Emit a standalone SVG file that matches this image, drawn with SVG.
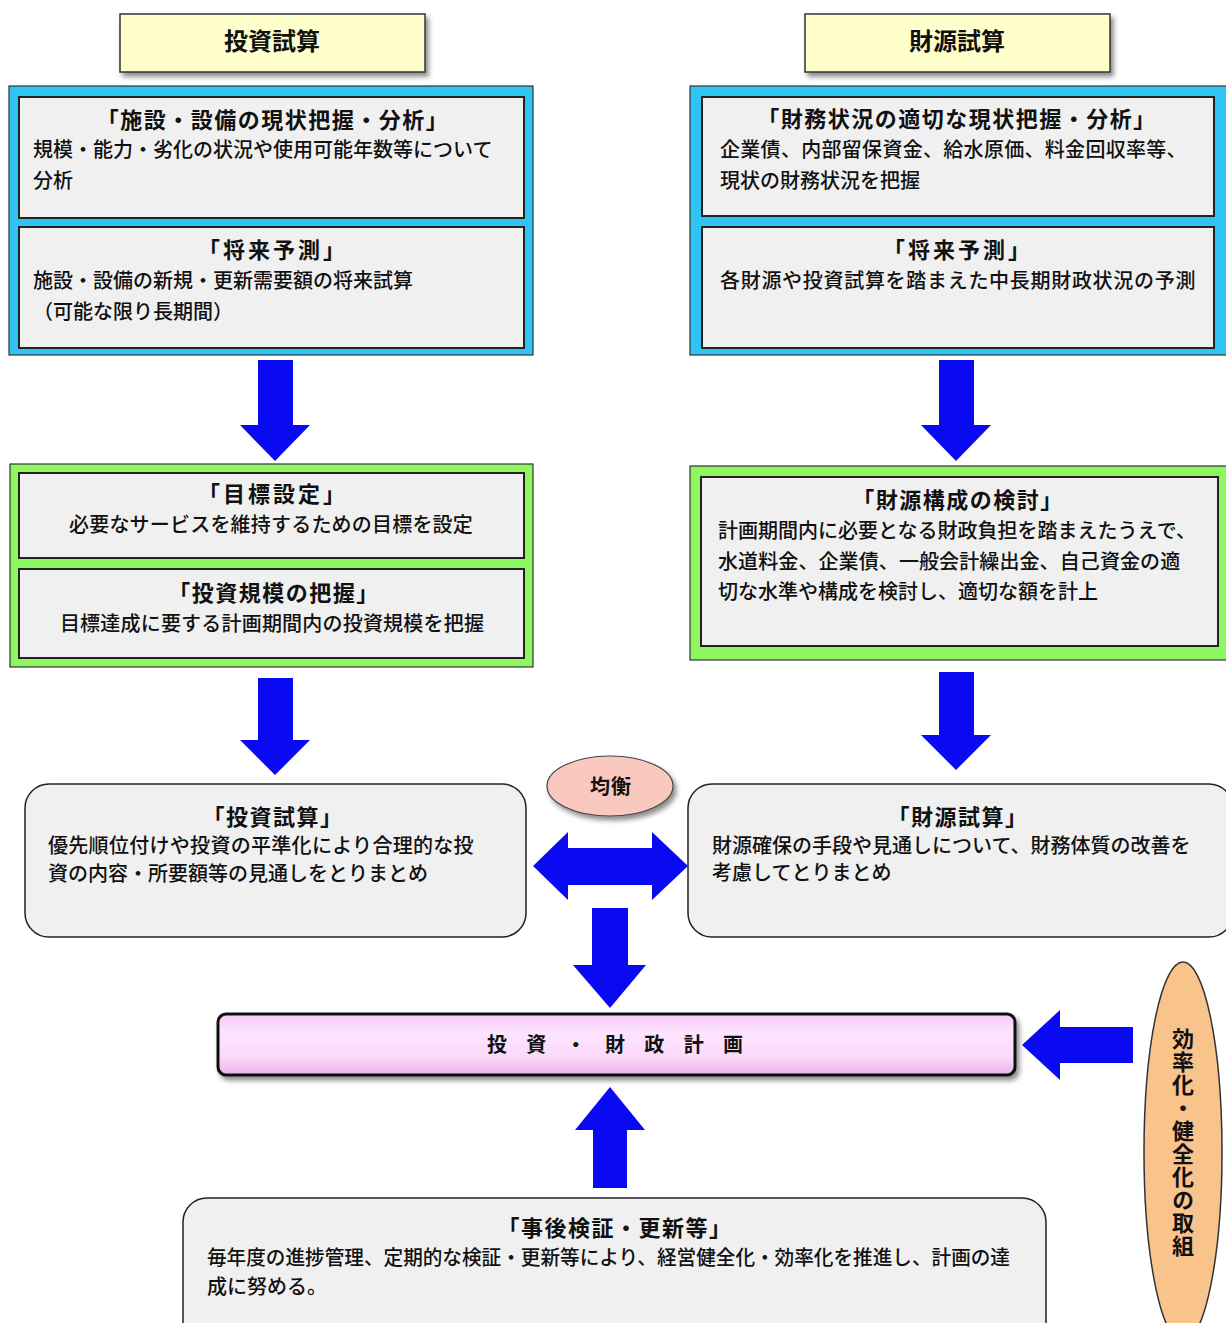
<svg xmlns="http://www.w3.org/2000/svg" width="1226" height="1323" viewBox="0 0 1226 1323">
<defs>
<filter id="sh" x="-10%" y="-30%" width="130%" height="170%">
<feDropShadow dx="3" dy="4" stdDeviation="2.5" flood-color="#000" flood-opacity="0.45"/>
</filter>
<linearGradient id="pg" x1="0" y1="0" x2="0" y2="1">
<stop offset="0" stop-color="#f6c8f6"/>
<stop offset="0.3" stop-color="#fde4fd"/>
<stop offset="0.7" stop-color="#fbdafb"/>
<stop offset="1" stop-color="#eab4ea"/>
</linearGradient>
<style>
text{font-family:"Noto Sans CJK JP","Noto Sans CJK SC",sans-serif;fill:#111}
.hd{font-size:24px;font-weight:700;text-anchor:middle}
.tt{font-size:22px;font-weight:700;text-anchor:middle;letter-spacing:1.5px}
.bd{font-size:20px;font-weight:500}
.bc{font-size:20px;font-weight:500;text-anchor:middle}
.yel{fill:#ffffcc;stroke:#333;stroke-width:1.5}
.blu{fill:#2ec4f4;stroke:#333;stroke-width:1.2}
.grn{fill:#8ef760;stroke:#333;stroke-width:1.2}
.inn{fill:#f0f0f0;stroke:#222;stroke-width:2}
.rnd{fill:#f0f0f0;stroke:#222;stroke-width:1.5}
.arr{fill:#0a0af2}
</style>
</defs>

<g id="connectors">
<polygon class="arr" points="258,360 293,360 293,425 310,425 275,461 240,425 258,425"/>
<polygon class="arr" points="939,360 974,360 974,425 991,425 956,461 921,425 939,425"/>
<polygon class="arr" points="258,678 293,678 293,740 310,740 275,775 240,740 258,740"/>
<polygon class="arr" points="939,672 974,672 974,735 991,735 956,770 921,735 939,735"/>
<polygon class="arr" points="533,866 568,832 568,848 652,848 652,832 688,866 652,900 652,885 568,885 568,900"/>
<polygon class="arr" points="592,908 628,908 628,965 646,965 610,1008 573,965 592,965"/>
<polygon class="arr" points="610,1087 645,1130 627,1130 627,1188 593,1188 593,1130 575,1130"/>
<polygon class="arr" points="1022,1045 1060,1010 1060,1027 1133,1027 1133,1063 1060,1063 1060,1080"/>
</g>

<g id="header-invest">
<rect class="yel" x="120" y="14" width="305" height="58" filter="url(#sh)"/>
<text class="hd" x="272" y="50">投資試算</text>
</g>
<g id="header-finance">
<rect class="yel" x="805" y="14" width="305" height="58" filter="url(#sh)"/>
<text class="hd" x="957" y="50">財源試算</text>
</g>

<g id="blue-left">
<rect class="blu" x="9" y="86" width="524" height="269"/>
<rect class="inn" x="19" y="97" width="505" height="121"/>
<text class="tt" x="273" y="128">「施設・設備の現状把握・分析」</text>
<text class="bd" x="33" y="157">規模・能力・劣化の状況や使用可能年数等について</text>
<text class="bd" x="33" y="188">分析</text>
<rect class="inn" x="19" y="227" width="505" height="121"/>
<text class="tt" x="273" y="258" style="letter-spacing:3px">「将来予測」</text>
<text class="bd" x="33" y="288">施設・設備の新規・更新需要額の将来試算</text>
<text class="bd" x="33" y="319">（可能な限り長期間）</text>
</g>

<g id="blue-right">
<rect class="blu" x="690" y="86" width="540" height="269"/>
<rect class="inn" x="702" y="97" width="512" height="119"/>
<text class="tt" x="957" y="127">「財務状況の適切な現状把握・分析」</text>
<text class="bd" x="720" y="157" letter-spacing="0.3">企業債、内部留保資金、給水原価、料金回収率等、</text>
<text class="bd" x="720" y="188">現状の財務状況を把握</text>
<rect class="inn" x="702" y="227" width="512" height="121"/>
<text class="tt" x="958" y="258" style="letter-spacing:3px">「将来予測」</text>
<text class="bd" x="720" y="288" letter-spacing="0.7">各財源や投資試算を踏まえた中長期財政状況の予測</text>
</g>

<g id="green-left">
<rect class="grn" x="10" y="464" width="523" height="203"/>
<rect class="inn" x="19" y="473" width="505" height="85"/>
<text class="tt" x="273" y="502" style="letter-spacing:3px">「目標設定」</text>
<text class="bc" x="271" y="532" letter-spacing="0.2">必要なサービスを維持するための目標を設定</text>
<rect class="inn" x="19" y="569" width="505" height="89"/>
<text class="tt" x="274" y="601">「投資規模の把握」</text>
<text class="bc" x="272" y="631" letter-spacing="0.2">目標達成に要する計画期間内の投資規模を把握</text>
</g>

<g id="green-right">
<rect class="grn" x="690" y="466" width="540" height="194"/>
<rect class="inn" x="701" y="477" width="517" height="169"/>
<text class="tt" x="958" y="508">「財源構成の検討」</text>
<text class="bd" x="718" y="538">計画期間内に必要となる財政負担を踏まえたうえで、</text>
<text class="bd" x="718" y="569" letter-spacing="0.1">水道料金、企業債、一般会計繰出金、自己資金の適</text>
<text class="bd" x="718" y="599">切な水準や構成を検討し、適切な額を計上</text>
</g>

<g id="invest-calc">
<rect class="rnd" x="25" y="784" width="501" height="153" rx="24"/>
<text class="tt" x="273" y="825">「投資試算」</text>
<text class="bd" x="48" y="853" letter-spacing="0.3">優先順位付けや投資の平準化により合理的な投</text>
<text class="bd" x="48" y="881">資の内容・所要額等の見通しをとりまとめ</text>
</g>

<g id="finance-calc">
<rect class="rnd" x="688" y="784" width="545" height="153" rx="24"/>
<text class="tt" x="958" y="825">「財源試算」</text>
<text class="bd" x="712" y="853">財源確保の手段や見通しについて、財務体質の改善を</text>
<text class="bd" x="712" y="880">考慮してとりまとめ</text>
</g>

<g id="balance">
<ellipse cx="610" cy="786" rx="63" ry="30" fill="#f9c9c0" stroke="#444" stroke-width="1.2" filter="url(#sh)"/>
<text class="tt" x="611" y="794" style="font-size:20px;letter-spacing:1px">均衡</text>
</g>

<g id="plan">
<rect x="218" y="1014" width="797" height="61" rx="8" fill="url(#pg)" stroke="#111" stroke-width="3" filter="url(#sh)"/>
<text class="tt" x="615" y="1052" style="font-size:20px;letter-spacing:0" textLength="256" lengthAdjust="spacing">投 資 ・ 財 政 計 画</text>
</g>

<g id="review">
<rect class="rnd" x="183" y="1198" width="863" height="150" rx="24"/>
<text class="tt" x="615" y="1236">「事後検証・更新等」</text>
<text class="bd" x="207" y="1265" textLength="803" lengthAdjust="spacingAndGlyphs">毎年度の進捗管理、定期的な検証・更新等により、経営健全化・効率化を推進し、計画の達</text>
<text class="bd" x="207" y="1294">成に努める。</text>
</g>

<g id="efficiency">
<ellipse cx="1183" cy="1152" rx="39" ry="190" fill="#f9c38c" stroke="#333" stroke-width="1.5"/>
<text class="tt" x="1183" y="1143" style="writing-mode:vertical-rl;font-size:22px;letter-spacing:1px">効率化・健全化の取組</text>
</g>
</svg>
